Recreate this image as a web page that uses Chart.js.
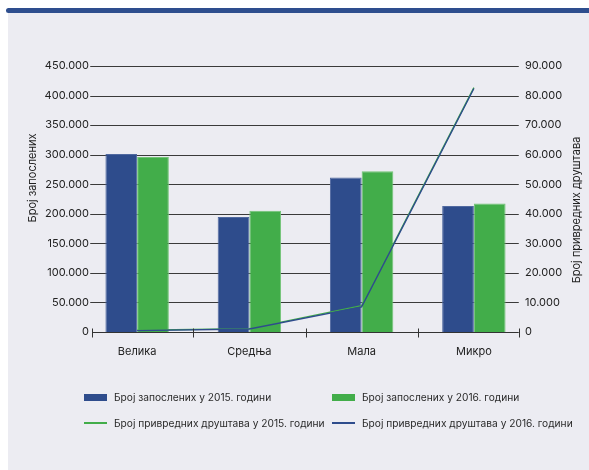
<!DOCTYPE html>
<html><head><meta charset="utf-8">
<script src="https://cdn.jsdelivr.net/npm/chart.js@4.4.1/dist/chart.umd.min.js"></script>
<style>
html,body{margin:0;padding:0;background:#fff;}
body{width:589px;height:470px;position:relative;overflow:hidden;font-family:Inter,'Noto Sans',sans-serif;}
#bg{position:absolute;left:8px;top:12px;width:581px;height:458px;background:#ECECF2;}
#band{position:absolute;left:6px;top:8px;width:583px;height:5px;background:#2E4E8E;border-radius:3px 0 0 3px;}
#wrap{position:absolute;left:0;top:0;width:589px;height:470px;}
#legend{position:absolute;left:84px;top:384px;display:grid;grid-template-columns:248px auto;grid-auto-rows:26px;align-items:center;font-size:10.2px;color:#2a2a2a;}
.item{display:flex;align-items:center;white-space:nowrap;}
.mk{display:inline-block;width:23px;margin-right:7px;}
</style>
</head><body>
<div id="bg"></div><div id="band"></div>
<div id="wrap"><canvas id="c" width="589" height="470"></canvas></div>
<div id="legend"></div>
<script>
const categories = ['Велика', 'Средња', 'Мала', 'Микро'];
const employees2015 = [301000, 194500, 261500, 213000];
const employees2016 = [296000, 205000, 272000, 217500];
const companies2015 = [600, 1150, 8900, 82700];
const companies2016 = [450, 1000, 8500, 82400];
const seriesLabels = [
  'Број запослених у 2015. години',
  'Број запослених у 2016. години',
  'Број привредних друштава у 2015. години',
  'Број привредних друштава у 2016. години'
];
const leftTitle = 'Број запослених';
const rightTitle = 'Број привредних друштава';

const BLUE = '#2E4C8C', GREEN = '#42AD4A';
const fmt = v => v === 0 ? '0' : String(Math.round(v)).replace(/\B(?=(\d{3})+(?!\d))/g, '.');
const tickFont = {family: 'Inter', size: 11};

const axisPlugin = {
  id: 'axisLines',
  afterLayout(chart) {
    // let tick labels sit slightly inside the plot edges, as in the reference
    chart.scales.y.right += 8;
    chart.scales.y2.left -= 5;
  },
  beforeDatasetsDraw(chart) {
    const {ctx, scales: {x, y}} = chart;
    const w = x.width / categories.length;
    const x0 = x.left + 0.1 * w, x1 = x.right - 0.1 * w;
    ctx.save();
    ctx.strokeStyle = '#3a3a3a';
    ctx.lineWidth = 1;
    y.ticks.forEach(t => {
      if (t.value === 0) return;
      const py = Math.round(y.getPixelForValue(t.value)) + 0.5;
      ctx.beginPath(); ctx.moveTo(x0 - 2, py); ctx.lineTo(x1, py); ctx.stroke();
    });
    ctx.restore();
  },
  afterDatasetsDraw(chart) {
    const {ctx, scales: {x, y, y2}, chartArea} = chart;
    const w = x.width / categories.length;
    const x0 = x.left + 0.1 * w, x1 = x.right - 0.1 * w;
    const py = Math.round(y.getPixelForValue(0)) + 0.5;
    ctx.save();
    ctx.strokeStyle = '#333';
    ctx.lineWidth = 1;
    ctx.beginPath(); ctx.moveTo(x0, py); ctx.lineTo(x1, py); ctx.stroke();
    const marks = [x0, x1];
    for (let i = 1; i < categories.length; i++) marks.push(x.left + i * w);
    marks.forEach(mx => {
      const px = Math.round(mx) + 0.5;
      ctx.beginPath(); ctx.moveTo(px, py - 4); ctx.lineTo(px, py + 5); ctx.stroke();
    });
    // axis titles, both reading bottom-to-top
    ctx.fillStyle = '#222';
    ctx.font = '11px Inter';
    ctx.textAlign = 'center';
    ctx.textBaseline = 'middle';
    const mid = (chartArea.top + chartArea.bottom) / 2;
    ctx.save();
    ctx.translate(y.left + 11, mid - 21);
    ctx.rotate(-Math.PI / 2);
    ctx.fillText(leftTitle, 0, 0);
    ctx.restore();
    ctx.save();
    ctx.translate(y2.right - 11, mid + 11);
    ctx.rotate(-Math.PI / 2);
    ctx.fillText(rightTitle, 0, 0);
    ctx.restore();
    ctx.restore();
  }
};

const chart = new Chart(document.getElementById('c'), {
  type: 'bar',
  data: {
    labels: categories,
    datasets: [
      {type: 'bar', label: seriesLabels[0], data: employees2015, backgroundColor: BLUE, borderColor: '#5069a0', borderWidth: 1, yAxisID: 'y', order: 2, categoryPercentage: 0.565, barPercentage: 1},
      {type: 'bar', label: seriesLabels[1], data: employees2016, backgroundColor: GREEN, borderColor: '#72c476', borderWidth: 1, yAxisID: 'y', order: 2, categoryPercentage: 0.565, barPercentage: 1},
      {type: 'line', label: seriesLabels[2], data: companies2015, borderColor: GREEN, borderWidth: 1.4, pointRadius: 0, yAxisID: 'y2', order: 1, tension: 0},
      {type: 'line', label: seriesLabels[3], data: companies2016, borderColor: BLUE, borderWidth: 1.4, pointRadius: 0, yAxisID: 'y2', order: 0, tension: 0}
    ]
  },
  options: {
    responsive: false,
    animation: false,
    devicePixelRatio: 1,
    layout: {padding: {left: 22, right: 1, top: 66, bottom: 108}},
    plugins: {legend: {display: false}, tooltip: {enabled: false}},
    scales: {
      x: {
        offset: true,
        grid: {display: false, drawTicks: false},
        border: {display: false},
        ticks: {color: '#222', font: tickFont, padding: 13},
        afterFit: s => { s.height = 30; }
      },
      y: {
        position: 'left', min: 0, max: 450000,
        grid: {display: false, drawTicks: false},
        border: {display: false},
        ticks: {stepSize: 50000, padding: 0, color: '#222', font: tickFont, callback: fmt},
        afterFit: s => { s.width = 59; }
      },
      y2: {
        position: 'right', min: 0, max: 90000,
        grid: {display: false, drawTicks: false},
        border: {display: false},
        ticks: {stepSize: 10000, padding: 0, color: '#222', font: tickFont, callback: fmt},
        afterFit: s => { s.width = 58; }
      }
    }
  },
  plugins: [axisPlugin]
});

const legend = document.getElementById('legend');
chart.data.datasets.forEach(ds => {
  const it = document.createElement('div');
  it.className = 'item';
  const mk = document.createElement('span');
  mk.className = 'mk';
  if (ds.type === 'bar') { mk.style.height = '7px'; mk.style.background = ds.backgroundColor; }
  else { mk.style.height = '2px'; mk.style.background = ds.borderColor; }
  const tx = document.createElement('span');
  tx.textContent = ds.label;
  it.appendChild(mk); it.appendChild(tx);
  legend.appendChild(it);
});
</script>
</body></html>
